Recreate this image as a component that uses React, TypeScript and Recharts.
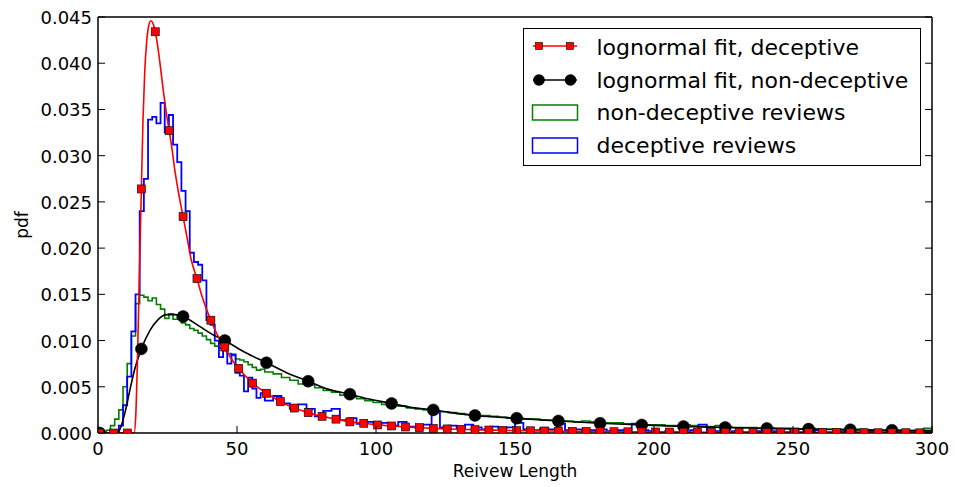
import React from 'react';
import { ComposedChart, Line, Scatter, XAxis, YAxis, Legend } from 'recharts';

const xTicks = [0, 50, 100, 150, 200, 250, 300];
const yTicks = [0, 0.005, 0.01, 0.015, 0.02, 0.025, 0.03, 0.035, 0.04, 0.045];

// histogram bin starts (fine bins to 60, coarser after)
const binStarts = [
  0, 1.5, 3, 4.5, 6, 7.5, 9, 10.5, 12, 13.5,
  15, 16.5, 18, 19.5, 21, 22.5, 24, 25.5, 27, 28.5,
  30, 31.5, 33, 34.5, 36, 37.5, 39, 40.5, 42, 43.5,
  45, 46.5, 48, 49.5, 51, 52.5, 54, 55.5, 57, 58.5,
  60, 63, 66, 69, 72, 75, 78, 81, 84, 87,
  90, 93, 96, 99, 102, 105, 108, 111, 114, 117,
  120, 123, 126, 129, 132, 135, 138, 141, 144, 147,
  150, 153, 156, 159, 162, 165, 168, 171, 174, 177,
  180, 183, 186, 189, 192, 195, 198, 201, 204, 207,
  210, 213, 216, 219, 222, 225, 228, 231, 234, 237,
  240, 243, 246, 249, 252, 255, 258, 261, 264, 267,
  270, 273, 276, 279, 282, 285, 288, 291, 294, 297,
];
const histEnd = 300;

const nonDeceptiveDensity = [
  0, 0, 0.0003, 0.0008, 0.0015, 0.0025, 0.005, 0.0075, 0.0105, 0.014,
  0.0149, 0.0147, 0.0143, 0.0146, 0.0139, 0.0134, 0.0124, 0.0129, 0.0123, 0.0126,
  0.0119, 0.0117, 0.0113, 0.0111, 0.0108, 0.0105, 0.0101, 0.0097, 0.0094, 0.0092,
  0.0089, 0.0086, 0.0084, 0.008, 0.0079, 0.0077, 0.0074, 0.0071, 0.0068, 0.0069,
  0.0066, 0.0064, 0.006, 0.0057, 0.0053, 0.0052, 0.0049, 0.0046, 0.0044, 0.0041,
  0.0039, 0.0037, 0.0035, 0.0033, 0.0031, 0.003, 0.0029, 0.0027, 0.0026, 0.0025,
  0.0024, 0.0023, 0.0022, 0.0021, 0.002, 0.0019, 0.0019, 0.0018, 0.0017, 0.0016,
  0.0016, 0.0015, 0.0015, 0.0014, 0.0014, 0.0013, 0.0013, 0.0012, 0.0013, 0.0012,
  0.0011, 0.0011, 0.0011, 0.001, 0.001, 0.0009, 0.0009, 0.0009, 0.0008, 0.0008,
  0.0009, 0.0008, 0.0007, 0.0007, 0.0008, 0.0007, 0.0006, 0.0006, 0.0006, 0.0005,
  0.0006, 0.0005, 0.0005, 0.0005, 0.0004, 0.0005, 0.0004, 0.0004, 0.0004, 0.0004,
  0.0003, 0.0004, 0.0003, 0.0003, 0.0003, 0.0003, 0.0003, 0.0002, 0.0003, 0.0005,
];

const deceptiveDensity = [
  0, 0, 0, 0, 0, 0.0008, 0.003, 0.0061, 0.011, 0.015,
  0.024, 0.0275, 0.0339, 0.0342, 0.0335, 0.0357, 0.0325, 0.0344, 0.0312, 0.0293,
  0.0262, 0.024, 0.0195, 0.0185, 0.0182, 0.0165, 0.0122, 0.0117, 0.01, 0.0082,
  0.0092, 0.0075, 0.0085, 0.0065, 0.0062, 0.0045, 0.006, 0.0048, 0.0038, 0.0043,
  0.0035, 0.004, 0.0032, 0.0026, 0.0031, 0.0026, 0.0018, 0.0024, 0.0026, 0.0014,
  0.0016, 0.001, 0.0012, 0.0009, 0.0011, 0.0008, 0.0012, 0.0007, 0.0006, 0.0009,
  0.0022, 0.0006, 0.0008, 0.0005, 0.0009, 0.0006, 0.0004, 0.0007, 0.0005, 0.0006,
  0.0011, 0.0004, 0.0003, 0.0005, 0.0004, 0.001, 0.0003, 0.0004, 0.0002, 0.0003,
  0.0004, 0.0002, 0.0003, 0.0001, 0.001, 0.0003, 0.0002, 0.0001, 0.0002, 0.0001,
  0.0002, 0.0003, 0.0009, 0.0001, 0.0002, 0.0001, 0.0002, 0.0001, 0.0001, 0.0002,
  0.0001, 0.0002, 0.0001, 0.0003, 0.0001, 0.0002, 0.0003, 0.0001, 0.0001, 0.0002,
  0.0001, 0.0001, 0.0002, 0.0001, 0.0001, 0.0001, 0.0002, 0.0001, 0.0001, 0.0002,
];

// lognormal fit, deceptive: marker points
const decMarkX = [
  0.6, 5.6, 10.6, 15.6, 20.6, 25.6, 30.6, 35.6, 40.6, 45.6,
  50.6, 55.6, 60.6, 65.6, 70.6, 75.6, 80.6, 85.6, 90.6, 95.6,
  100.6, 105.6, 110.6, 115.6, 120.6, 125.6, 130.6, 135.6, 140.6, 145.6,
  150.6, 155.6, 160.6, 165.6, 170.6, 175.6, 180.6, 185.6, 190.6, 195.6,
  200.6, 205.6, 210.6, 215.6, 220.6, 225.6, 230.6, 235.6, 240.6, 245.6,
  250.6, 255.6, 260.6, 265.6, 270.6, 275.6, 280.6, 285.6, 290.6, 295.6,
];
const decMarkY = [
  0, 0, 0, 0.0264, 0.0434, 0.0327, 0.0234, 0.0167, 0.0122, 0.0093,
  0.007, 0.0054, 0.0043, 0.0034, 0.0027, 0.0022, 0.0018, 0.0015, 0.0012, 0.00105,
  0.00087, 0.00076, 0.00065, 0.00058, 0.0005, 0.00044, 0.0004, 0.00036, 0.00032, 0.00029,
  0.00026, 0.00024, 0.00022, 0.0002, 0.00018, 0.00017, 0.00015, 0.00014, 0.00013, 0.00012,
  0.00011, 0.0001, 0.00009, 0.00009, 0.00008, 0.00007, 0.00007, 0.00006, 0.00006, 0.00005,
  0.00005, 0.00005, 0.00004, 0.00004, 0.00004, 0.00003, 0.00003, 0.00003, 0.00003, 0.00002,
];
// extra curve points between markers
const decCurveX = [13.0, 13.6, 14.2, 14.8, 16.2, 16.8, 17.5, 18.2, 19.0, 19.8, 21.5, 22.5, 23.5, 24.5, 26.5, 27.5, 28.5, 29.5, 32.0, 33.5, 37.5, 43.0, 48.0, 300];
const decCurveY = [0, 0.002, 0.008, 0.016, 0.034, 0.039, 0.0423, 0.044, 0.0446, 0.0443, 0.0418, 0.0395, 0.037, 0.0348, 0.031, 0.0287, 0.0268, 0.0251, 0.0212, 0.0188, 0.0147, 0.0106, 0.008, 0.00002];

// lognormal fit, non-deceptive
const nonDecMarkX = [0.6, 15.6, 30.6, 45.6, 60.6, 75.6, 90.6, 105.6, 120.6, 135.6, 150.6, 165.6, 180.6, 195.6, 210.6, 225.6, 240.6, 255.6, 270.6, 285.6];
const nonDecMarkY = [0, 0.0091, 0.0126, 0.01, 0.0076, 0.0056, 0.0042, 0.0032, 0.0025, 0.0019, 0.0016, 0.0013, 0.00105, 0.00087, 0.0007, 0.0006, 0.0005, 0.00042, 0.00036, 0.0003];
const nonDecCurveX = [6.5, 7.5, 8.5, 9.7, 11.5, 13.3, 18.7, 21.7, 24.7, 27.7, 36.7, 41.5, 53, 68, 82, 97, 112, 127, 142, 300];
const nonDecCurveY = [0, 0.0002, 0.0009, 0.0022, 0.0047, 0.007, 0.0111, 0.0123, 0.0128, 0.0128, 0.0115, 0.0106, 0.0087, 0.0065, 0.0048, 0.0037, 0.0028, 0.0022, 0.00175, 0.00027];

const FONT = 'DejaVu Sans';

const toPoints = (xs: number[], ys: number[]) => xs.map((x, i) => ({ x, y: ys[i] }));
const histPoints = (starts: number[], vals: number[]) => {
  const pts = toPoints(starts, vals);
  pts.push({ x: histEnd, y: vals[vals.length - 1] });
  pts.push({ x: histEnd, y: 0 });
  return pts;
};
const merged = (a: { x: number; y: number }[], b: { x: number; y: number }[]) =>
  [...a, ...b].sort((p, q) => p.x - q.x);

const BottomTick = (props: any) => {
  const { x, y, payload } = props;
  return (
    <g>
      <line x1={x} y1={y} x2={x} y2={y - 7} stroke="#000" strokeWidth={1} />
      <text x={x} y={y + 22} textAnchor="middle" fontSize={18} fill="#000" fontFamily={FONT}>
        {payload.value}
      </text>
    </g>
  );
};
const TopTick = (props: any) => {
  const { x, y } = props;
  return <line x1={x} y1={y} x2={x} y2={y + 7} stroke="#000" strokeWidth={1} />;
};
const LeftTick = (props: any) => {
  const { x, y, payload } = props;
  return (
    <g>
      <line x1={x} y1={y} x2={x + 7} y2={y} stroke="#000" strokeWidth={1} />
      <text x={x - 6} y={y + 7} textAnchor="end" fontSize={18} fill="#000" fontFamily={FONT}>
        {Number(payload.value).toFixed(3)}
      </text>
    </g>
  );
};
const RightTick = (props: any) => {
  const { x, y } = props;
  return <line x1={x} y1={y} x2={x - 7} y2={y} stroke="#000" strokeWidth={1} />;
};

const SquareMarker = (props: any) => {
  const { cx, cy } = props;
  if (cx == null || cy == null) return <g />;
  return <rect x={cx - 4} y={cy - 4} width={8} height={8} fill="#ff0000" stroke="#000" strokeWidth={0.6} />;
};
const CircleMarker = (props: any) => {
  const { cx, cy } = props;
  if (cx == null || cy == null) return <g />;
  return <circle cx={cx} cy={cy} r={6} fill="#000" stroke="#000" strokeWidth={0.5} />;
};

const legendItems = [
  'lognormal fit, deceptive',
  'lognormal fit, non-deceptive',
  'non-deceptive reviews',
  'deceptive reviews',
];

const LegendBox = () => (
  <svg width={398} height={138} style={{ display: 'block' }}>
    <rect x={0.5} y={0.5} width={397} height={137} fill="#fff" stroke="#000" strokeWidth={1} />
    <line x1={10} y1={18} x2={54} y2={18} stroke="#ff0000" strokeWidth={1.5} />
    <rect x={12.5} y={14.5} width={7} height={7} fill="#ff0000" stroke="#000" strokeWidth={0.6} />
    <rect x={43.5} y={14.5} width={7} height={7} fill="#ff0000" stroke="#000" strokeWidth={0.6} />
    <line x1={10} y1={52} x2={54} y2={52} stroke="#000" strokeWidth={1.5} />
    <circle cx={16} cy={52} r={5.8} fill="#000" />
    <circle cx={47.5} cy={52} r={5.8} fill="#000" />
    <rect x={9.5} y={77} width={45} height={15} fill="none" stroke="#008000" strokeWidth={1.5} />
    <rect x={9.5} y={110} width={45} height={15} fill="none" stroke="#0000ff" strokeWidth={1.5} />
    {legendItems.map((t, i) => (
      <text key={t} x={73.5} y={27 + i * 32.7} fontSize={22} fill="#000" fontFamily={FONT}>
        {t}
      </text>
    ))}
  </svg>
);

export default function App() {
  const greenHist = histPoints(binStarts, nonDeceptiveDensity);
  const blueHist = histPoints(binStarts, deceptiveDensity);
  const decMarks = toPoints(decMarkX, decMarkY);
  const nonDecMarks = toPoints(nonDecMarkX, nonDecMarkY);
  const decLine = merged(decMarks, toPoints(decCurveX, decCurveY));
  const nonDecLine = merged(nonDecMarks, toPoints(nonDecCurveX, nonDecCurveY));

  return (
    <div style={{ position: 'absolute', left: 0, top: 0, width: 955, height: 487, background: '#fff', fontFamily: FONT }}>
      <ComposedChart width={955} height={487} margin={{ top: 16, right: 22, bottom: 0, left: 0 }}>
        <XAxis
          dataKey="x"
          type="number"
          domain={[0, 300]}
          ticks={xTicks}
          allowDataOverflow
          height={54}
          tickLine={false}
          tickSize={0}
          tickMargin={0}
          tick={<BottomTick />}
          axisLine={{ stroke: '#000', strokeWidth: 1.5 }}
          label={{ value: 'Reivew Length', position: 'insideBottom', offset: 10, fontSize: 17, fill: '#000', fontFamily: FONT }}
        />
        <XAxis
          xAxisId="top"
          orientation="top"
          type="number"
          domain={[0, 300]}
          ticks={xTicks}
          allowDataOverflow
          height={1}
          tickLine={false}
          tickSize={0}
          tickMargin={0}
          tick={<TopTick />}
          axisLine={{ stroke: '#000', strokeWidth: 1.5 }}
        />
        <YAxis
          dataKey="y"
          type="number"
          domain={[0, 0.045]}
          ticks={yTicks}
          allowDataOverflow
          width={98}
          tickLine={false}
          tickSize={0}
          tickMargin={0}
          tick={<LeftTick />}
          axisLine={{ stroke: '#000', strokeWidth: 1.5 }}
          label={{
            content: () => (
              <text x={28} y={225} transform="rotate(-90 28 225)" textAnchor="middle" fontSize={17} fill="#000" fontFamily={FONT}>
                pdf
              </text>
            ),
          }}
        />
        <YAxis
          yAxisId="right"
          orientation="right"
          type="number"
          domain={[0, 0.045]}
          ticks={yTicks}
          allowDataOverflow
          width={1}
          tickLine={false}
          tickSize={0}
          tickMargin={0}
          tick={<RightTick />}
          axisLine={{ stroke: '#000', strokeWidth: 1.5 }}
        />
        <Line data={greenHist} dataKey="y" type="stepAfter" stroke="#008000" strokeWidth={1.6} dot={false} activeDot={false} isAnimationActive={false} />
        <Line data={blueHist} dataKey="y" type="stepAfter" stroke="#0000ff" strokeWidth={1.8} dot={false} activeDot={false} isAnimationActive={false} />
        <Line data={nonDecLine} dataKey="y" type="monotone" stroke="#000" strokeWidth={1.6} dot={false} activeDot={false} isAnimationActive={false} />
        <Line data={decLine} dataKey="y" type="monotone" stroke="#ff0000" strokeWidth={1.6} dot={false} activeDot={false} isAnimationActive={false} />
        <Scatter data={nonDecMarks} dataKey="y" shape={<CircleMarker />} isAnimationActive={false} />
        <Scatter data={decMarks} dataKey="y" shape={<SquareMarker />} isAnimationActive={false} />
        <Legend
          layout="horizontal"
          verticalAlign="middle"
          align="center"
          width={398}
          height={138}
          wrapperStyle={{ left: 523, top: 28, width: 398, height: 138 }}
          content={() => <LegendBox />}
        />
      </ComposedChart>
    </div>
  );
}
